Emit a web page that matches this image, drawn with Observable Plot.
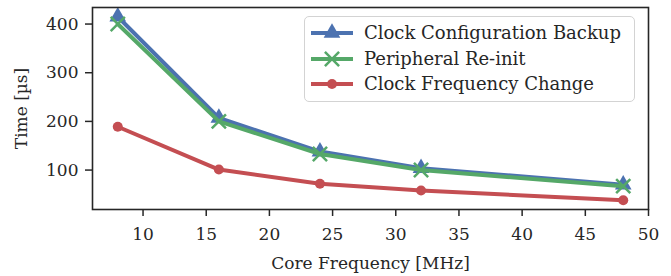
<!DOCTYPE html>
<html><head><meta charset="utf-8">
<script src="https://cdn.jsdelivr.net/npm/d3@7"></script>
<script src="https://cdn.jsdelivr.net/npm/@observablehq/plot@0.6"></script>
<style>
body{margin:0;background:#fff;}
#wrap{position:relative;width:671px;height:276px;font-family:"DejaVu Serif",serif;color:#262626;}
#legend{position:absolute;left:304px;top:16px;width:331px;height:86px;box-sizing:border-box;border:1.5px solid #d3d3d3;border-radius:5px;background:rgba(255,255,255,0.85);}
.row{position:absolute;left:0;height:26px;width:100%;}
.row svg{position:absolute;left:5px;top:0;}
.row span{position:absolute;left:59px;top:1px;font-size:18px;line-height:24px;white-space:nowrap;}
</style></head><body><div id="wrap"></div>
<script>
const freqs = [8, 16, 24, 32, 48];
const backup = [415, 207, 138, 104, 70];
const reinit = [400, 200, 133, 100, 67];
const change = [189, 101, 72, 58, 38];
const seriesNames = ["Clock Configuration Backup", "Peripheral Re-init", "Clock Frequency Change"];
const seriesColors = ["#4C72B0", "#55A868", "#C44E52"];
const seriesSymbols = ["triangle", "times", "circle"];
const xTicks = [10, 15, 20, 25, 30, 35, 40, 45, 50];
const yTicks = [100, 200, 300, 400];

const seriesValues = [backup, reinit, change];
const rows = seriesValues.map((vals, s) => freqs.map((f, i) => ({f, v: vals[i], s})));
const symR = [6.2, 6.5, 5];
const marks = [];
rows.forEach((data, s) => {
  marks.push(Plot.line(data, {x: "f", y: "v", stroke: seriesColors[s], strokeWidth: 4}));
  if (seriesSymbols[s] === "times") {
    marks.push(Plot.dot(data, {x: "f", y: "v", symbol: "times", r: symR[s], stroke: seriesColors[s], strokeWidth: 2.5, clip: true}));
  } else {
    marks.push(Plot.dot(data, {x: "f", y: "v", symbol: seriesSymbols[s], r: symR[s], fill: seriesColors[s], stroke: "none", clip: true}));
  }
});

const chart = Plot.plot({
  width: 671, height: 276,
  marginLeft: 92, marginRight: 23, marginTop: 7, marginBottom: 67,
  style: {fontFamily: '"DejaVu Serif", serif', fontSize: "17px", color: "#262626", background: "white"},
  x: {domain: [6, 50]},
  y: {domain: [19, 434]},
  marks: [
    Plot.axisX({ticks: xTicks, tickSize: 7, tickPadding: 11, strokeWidth: 1.5, stroke: "#262626", label: "Core Frequency [MHz]", labelAnchor: "center", labelArrow: "none", labelOffset: 59}),
    Plot.axisY({ticks: yTicks, tickSize: 7, tickPadding: 7, strokeWidth: 1.5, stroke: "#262626", label: "Time [µs]", labelAnchor: "center", labelArrow: "none", labelOffset: 78}),
    ...marks,
    Plot.frame({stroke: "#262626", strokeWidth: 1.6})
  ]
});
const wrap = document.getElementById("wrap");
wrap.appendChild(chart);

const legend = document.createElement("div");
legend.id = "legend";
seriesNames.forEach((name, s) => {
  const row = document.createElement("div");
  row.className = "row";
  row.style.top = (3 + s * 25.5) + "px";
  const sw = d3.create("svg").attr("width", 46).attr("height", 26);
  sw.append("line").attr("x1", 1).attr("x2", 43).attr("y1", 13).attr("y2", 13)
    .attr("stroke", seriesColors[s]).attr("stroke-width", 4);
  const sym = {triangle: d3.symbolTriangle, times: d3.symbolTimes, circle: d3.symbolCircle}[seriesSymbols[s]];
  const p = sw.append("path").attr("transform", "translate(22,13)")
    .attr("d", d3.symbol(sym, Math.PI * symR[s] * symR[s])());
  if (seriesSymbols[s] === "times") p.attr("fill", "none").attr("stroke", seriesColors[s]).attr("stroke-width", 2.5);
  else p.attr("fill", seriesColors[s]);
  row.appendChild(sw.node());
  const t = document.createElement("span");
  t.textContent = name;
  row.appendChild(t);
  legend.appendChild(row);
});
wrap.appendChild(legend);
</script></body></html>
